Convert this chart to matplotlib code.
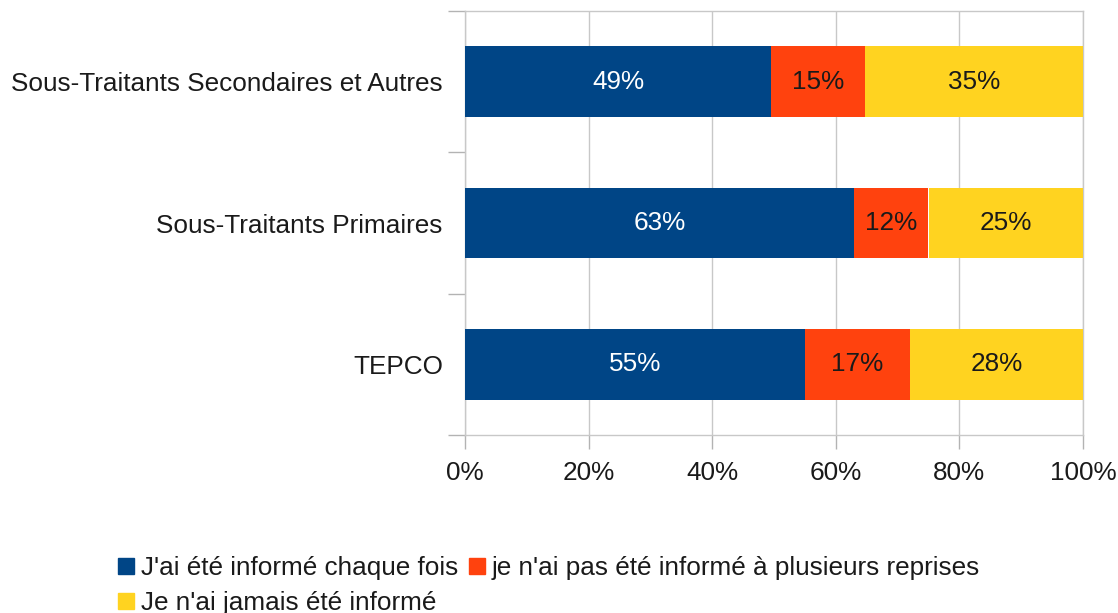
import matplotlib
matplotlib.use("Agg")
import matplotlib.pyplot as plt
from matplotlib.lines import Line2D
import numpy as np

plt.rcParams['font.family'] = ['Liberation Sans', 'DejaVu Sans']

categories = ["TEPCO", "Sous-Traitants Primaires", "Sous-Traitants Secondaires et Autres"]
series_names = ["J'ai été informé chaque fois",
                "je n'ai pas été informé à plusieurs reprises",
                "Je n'ai jamais été informé"]
informe_chaque_fois = [55, 63, 49]
pas_informe_plusieurs = [17, 12, 15]
jamais_informe = [28, 25, 35]
x_ticks = [0, 20, 40, 60, 80, 100]

colors = ["#004586", "#FF420E", "#FFD320"]
text_colors = ["white", "#1a1a1a", "#1a1a1a"]
FS = 18.8

fig = plt.figure(figsize=(11.18, 6.13), dpi=100)
ax = fig.add_axes([465/1118, 1 - 435/613, (1083-465)/1118, (435-11)/613])

data = np.array([informe_chaque_fois, pas_informe_plusieurs, jamais_informe], dtype=float)
totals = data.sum(axis=0)
shares = data / totals * 100
y = np.arange(len(categories))
left = np.zeros(len(categories))
for i in range(3):
    ax.barh(y, shares[i], left=left, height=0.5, color=colors[i], zorder=3)
    for j in range(len(categories)):
        ax.text(left[j] + shares[i][j] / 2, y[j], f"{int(data[i][j])}%",
                ha="center", va="center", color=text_colors[i], fontsize=FS, zorder=4)
    left += shares[i]

ax.set_xlim(0, 100)
ax.set_ylim(-0.5, 2.5)
ax.set_xticks(x_ticks)
ax.set_xticklabels([f"{t}%" for t in x_ticks], fontsize=FS, color="#1a1a1a")
ax.set_yticks([-0.5, 0.5, 1.5, 2.5])
ax.set_yticklabels([])
ax.set_yticks(y, minor=True)
ax.set_yticklabels(categories, minor=True, fontsize=FS, color="#1a1a1a")
ax.tick_params(axis="y", which="minor", length=0, pad=16)
ax.tick_params(axis="y", which="major", length=12, color="#b3b3b3", width=1)
ax.tick_params(axis="x", length=10, color="#b3b3b3", width=1, pad=9)
ax.grid(axis="x", color="#c8c8c8", linewidth=1, zorder=0)
for s in ax.spines.values():
    s.set_color("#c8c8c8")
    s.set_linewidth(1)

handles = [Line2D([], [], marker="s", linestyle="none", markersize=11,
                  markerfacecolor=c, markeredgecolor=c) for c in colors]
order = [0, 2, 1]
leg = fig.legend([handles[k] for k in order], [series_names[k] for k in order],
                 ncol=2, loc="lower left", bbox_to_anchor=(0.086, -0.037),
                 frameon=False, fontsize=FS, handlelength=0.7, handletextpad=0.2,
                 columnspacing=0.4, labelspacing=0.42, borderpad=0.3)
for t in leg.get_texts():
    t.set_color("#1a1a1a")

fig.savefig("out.png", dpi=100)
